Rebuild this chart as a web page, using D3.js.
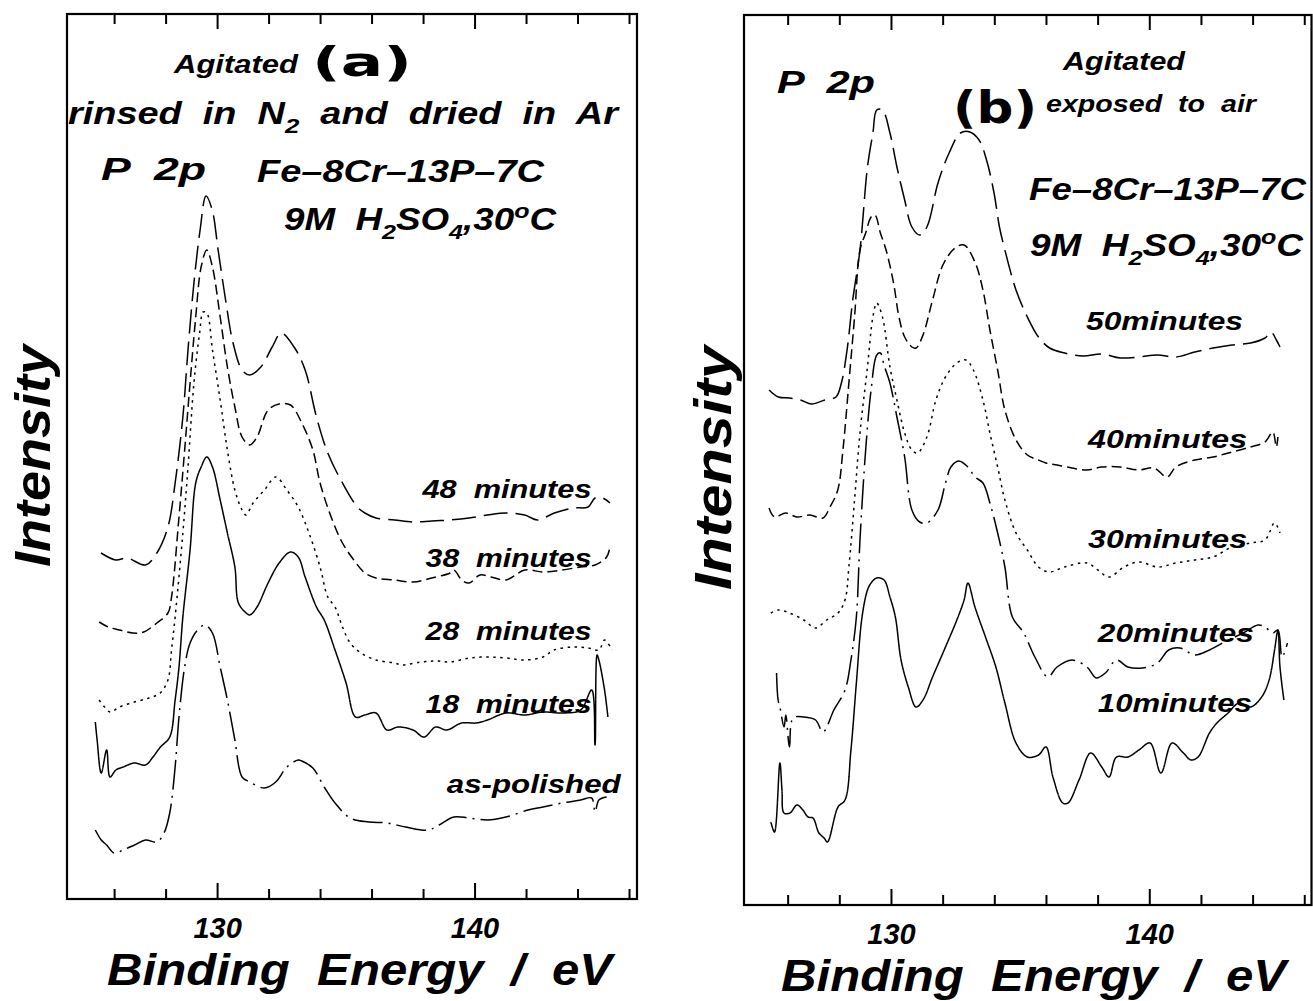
<!DOCTYPE html>
<html>
<head>
<meta charset="utf-8">
<script src="https://cdn.jsdelivr.net/npm/d3@7"></script>
<style>
  body { margin: 0; background: #fff; }
  svg { display: block; }
  text { font-family: "Liberation Sans", Arial, Helvetica, sans-serif; font-weight: bold; font-style: italic; fill: #000; }
</style>
</head>
<body>
<svg id="fig" width="1313" height="1001"></svg>
<script>
// P 2p XPS spectra of Fe-8Cr-13P-7C in 9M H2SO4 at 30 degC.
// Each spectrum: [binding energy (eV), intensity (arb. units)].

// (a) rinsed in N2 and dried in Ar
const a48min = [[125.49,346],[126.07,339],[126.50,341],[127.22,334],[127.66,346],[128.09,372],[128.37,416],[128.67,482],[128.87,549],[129.10,616],[129.34,669],[129.57,703],[129.81,689],[130.04,649],[130.33,599],[130.62,556],[130.97,529],[131.27,524],[131.70,532],[132.14,552],[132.49,566],[132.99,552],[133.42,529],[133.86,482],[134.30,446],[134.87,416],[135.45,392],[135.74,386],[136.17,381],[136.90,379],[137.61,377],[138.34,378],[139.05,379],[139.79,381],[140.50,384],[141.22,386],[141.95,384],[142.45,379],[143.10,386],[143.83,391],[144.41,392],[144.68,401],[144.98,401],[145.26,396]];
const a38min = [[125.42,277],[125.77,272],[126.21,269],[126.72,266],[127.15,267],[127.66,276],[128.09,286],[128.23,302],[128.52,382],[128.74,449],[128.95,516],[129.17,582],[129.38,632],[129.60,649],[129.82,632],[130.12,582],[130.40,532],[130.69,492],[130.97,462],[131.27,454],[131.55,462],[131.98,489],[132.41,495],[132.85,494],[133.29,476],[133.72,449],[134.00,416],[134.43,382],[134.87,356],[135.31,339],[135.74,326],[136.17,321],[136.90,319],[137.61,317],[138.34,321],[139.05,326],[139.20,329],[139.50,319],[139.79,316],[140.21,324],[140.64,322],[141.22,319],[141.95,329],[142.66,327],[143.40,329],[144.12,332],[144.68,334],[145.13,342],[145.26,352]];
const a28min = [[125.42,199],[125.63,192],[125.84,187],[126.21,192],[126.79,197],[127.36,201],[127.79,206],[128.09,219],[128.23,249],[128.37,282],[128.67,366],[128.87,432],[129.10,516],[129.32,566],[129.46,587],[129.60,586],[129.82,549],[130.12,499],[130.40,449],[130.69,409],[130.97,389],[131.12,384],[131.40,396],[131.84,409],[132.28,422],[132.71,409],[133.15,392],[133.57,366],[134.00,332],[134.30,302],[134.58,292],[134.87,272],[135.17,256],[135.59,246],[136.17,239],[136.90,236],[137.18,234],[137.91,237],[138.50,238],[139.05,237],[139.79,241],[140.50,242],[141.22,241],[141.95,239],[142.66,242],[143.09,249],[143.83,252],[144.41,251],[144.83,249],[145.05,259],[145.34,249]];
const a18min = [[125.27,177],[125.34,159],[125.50,126],[125.71,149],[125.84,122],[126.07,129],[126.35,132],[126.79,136],[127.22,134],[127.51,142],[127.80,152],[128.16,162],[128.37,199],[128.52,232],[128.67,282],[128.95,349],[129.17,416],[129.38,432],[129.60,442],[129.82,432],[130.12,399],[130.40,366],[130.69,332],[130.83,296],[131.13,286],[131.27,284],[131.55,292],[131.98,316],[132.41,336],[132.85,347],[133.15,342],[133.42,322],[133.86,292],[134.16,279],[134.58,249],[135.01,216],[135.38,182],[135.74,184],[136.17,186],[136.60,169],[137.03,172],[137.61,169],[138.04,162],[138.49,172],[138.92,169],[139.50,176],[140.06,176],[140.50,179],[141.22,186],[141.95,184],[142.66,187],[143.40,186],[144.12,189],[144.55,209],[144.68,154],[144.76,244],[144.83,239],[145.05,209],[145.18,182]];
const aPolished = [[125.27,69],[125.50,59],[125.71,54],[126.00,46],[126.35,49],[126.79,54],[127.22,59],[127.66,57],[127.94,66],[128.16,86],[128.37,132],[128.52,182],[128.74,232],[128.95,256],[129.24,269],[129.53,274],[129.82,266],[130.12,232],[130.40,199],[130.69,159],[130.97,122],[131.27,117],[131.84,111],[132.28,117],[132.71,132],[133.15,139],[133.29,138],[133.72,131],[134.16,112],[134.58,96],[135.17,81],[135.89,77],[136.60,76],[137.33,72],[138.19,69],[138.62,74],[139.20,82],[139.79,81],[140.50,79],[141.22,82],[142.08,89],[142.66,92],[143.40,96],[144.12,99],[144.55,101],[144.68,87],[144.83,99],[145.13,102]];

// (b) exposed to air
const b50min = [[125.28,515],[125.64,508],[126.07,507],[126.50,505],[126.93,501],[127.44,505],[127.87,508],[128.08,522],[128.30,555],[128.52,605],[128.80,655],[129.09,738],[129.30,772],[129.45,795],[129.67,795],[129.96,772],[130.23,738],[130.53,705],[130.81,678],[131.11,670],[131.39,678],[131.82,722],[132.25,752],[132.69,772],[133.05,773],[133.41,765],[133.70,745],[133.99,712],[134.20,678],[134.41,655],[134.84,615],[135.28,588],[135.71,568],[136.14,557],[136.72,552],[137.43,549],[138.16,551],[138.87,547],[139.60,548],[140.32,550],[141.03,548],[141.76,553],[142.47,557],[143.20,560],[143.92,562],[144.48,567],[144.71,573],[144.92,565],[145.06,558]];
const b40min = [[125.28,397],[125.49,388],[125.93,392],[126.36,388],[126.86,390],[127.37,387],[127.64,398],[127.94,415],[128.14,455],[128.37,522],[128.59,588],[128.80,655],[129.02,672],[129.23,688],[129.38,690],[129.59,672],[129.81,655],[130.10,622],[130.31,588],[130.53,568],[130.81,558],[130.97,557],[131.24,570],[131.61,605],[132.01,640],[132.48,657],[132.83,660],[133.25,643],[133.56,615],[133.83,575],[134.13,535],[134.41,495],[134.84,465],[135.28,450],[135.71,445],[136.00,442],[136.43,440],[137.01,437],[137.59,435],[138.16,438],[138.87,438],[139.60,435],[140.18,437],[140.69,428],[141.03,438],[141.76,445],[142.47,448],[143.20,453],[143.92,458],[144.48,463],[144.78,473],[144.92,458],[144.98,468]];
const b30min = [[125.35,292],[125.63,295],[126.07,292],[126.63,285],[127.08,277],[127.51,285],[127.95,292],[128.22,305],[128.37,338],[128.59,405],[128.80,472],[129.09,538],[129.30,588],[129.45,602],[129.67,588],[129.96,538],[130.23,505],[130.53,472],[130.81,455],[131.03,452],[131.39,468],[131.74,505],[132.11,528],[132.55,542],[132.90,545],[133.19,535],[133.56,505],[133.83,472],[134.13,438],[134.41,405],[134.84,372],[135.28,355],[135.71,338],[136.14,333],[136.72,338],[137.59,342],[138.01,335],[138.44,328],[139.02,338],[139.60,343],[140.32,338],[141.03,342],[141.76,345],[142.47,348],[143.20,358],[143.92,362],[144.48,365],[144.85,382],[145.06,372]];
const b20min = [[125.57,232],[125.63,205],[125.70,198],[125.86,178],[125.93,190],[126.07,158],[126.21,187],[126.63,188],[127.08,185],[127.37,173],[127.79,195],[128.22,215],[128.45,245],[128.66,288],[128.80,365],[129.02,455],[129.23,515],[129.45,550],[129.59,552],[129.73,540],[129.96,522],[130.23,488],[130.53,448],[130.81,395],[131.11,383],[131.39,382],[131.82,395],[132.11,422],[132.32,438],[132.62,444],[132.98,438],[133.25,428],[133.56,422],[133.83,402],[134.13,372],[134.41,338],[134.70,288],[135.14,272],[135.57,248],[136.07,228],[136.43,238],[137.01,245],[137.59,238],[137.94,227],[138.30,232],[138.73,245],[139.17,238],[139.74,237],[140.32,242],[140.75,255],[141.19,257],[141.76,250],[142.33,255],[142.91,263],[143.63,272],[144.21,280],[144.48,278],[144.78,272],[144.98,275],[145.14,248],[145.35,262]];
const b10min = [[125.35,83],[125.49,73],[125.70,142],[125.78,115],[125.86,92],[126.09,92],[126.36,100],[126.59,95],[126.79,88],[126.98,87],[127.21,72],[127.41,67],[127.54,63],[127.95,98],[128.22,105],[128.45,155],[128.66,222],[128.88,288],[129.09,315],[129.23,322],[129.45,327],[129.73,325],[129.96,308],[130.17,288],[130.39,245],[130.67,218],[130.97,198],[131.24,205],[131.61,228],[132.11,258],[132.55,285],[132.83,305],[132.98,322],[133.25,298],[133.70,265],[134.06,238],[134.41,202],[134.84,162],[135.28,148],[135.71,150],[136.00,158],[136.27,128],[136.65,102],[136.85,102],[137.28,125],[137.73,152],[138.16,138],[138.44,128],[138.73,148],[139.17,148],[139.60,155],[140.03,162],[140.45,132],[140.88,162],[141.32,152],[141.61,145],[141.89,148],[142.33,172],[142.62,182],[143.05,192],[143.47,202],[143.92,198],[144.35,208],[144.64,225],[144.85,255],[144.98,275],[145.06,238],[145.21,205]];

// Curve labels and where they sit (binding energy, intensity)
const labelsA = ["48  minutes", "38  minutes", "28  minutes", "18  minutes", "as-polished"];
const labelPosA = [[137.98,401],[138.10,332],[138.10,259],[138.10,186],[138.92,106]];
const labelsB = ["50minutes", "40minutes", "30minutes", "20minutes", "10minutes"];
const labelPosB = [[137.55,575],[137.63,457],[137.63,357],[138.01,263],[138.01,193]];

// Energy axis ticks
const energyTicks = [126, 128, 130, 132, 134, 136, 138, 140, 142, 144, 146];
const labelledTicks = [130, 140];

// ---- layout ----
const svg = d3.select("#fig");
const panels = [
  { left: 67, right: 637, top: 14, bottom: 899, eDomain: [124.17, 146.31], iMax: 885,
    series: [a48min, a38min, a28min, a18min, aPolished], labels: labelsA, labelPos: labelPosA,
    labelWidths: [169, 166, 166, 166, 174],
    yLabel: { x: 50, y: 456, size: 50, len: 222 }, xTitle: { dx: 40, len: 505 } },
  { left: 744, right: 1311.5, top: 15, bottom: 905, eDomain: [124.31, 146.28], iMax: 890,
    series: [b50min, b40min, b30min, b20min, b10min], labels: labelsB, labelPos: labelPosB,
    labelWidths: [157, 159, 159, 156, 154],
    yLabel: { x: 731, y: 468, size: 52, len: 244 }, xTitle: { dx: 37, len: 505 } }
];
// long dash, medium dash, dotted, dash-dot, solid
const dashes = [["24,8", "10,5", "2.5,4.5", "1,0", "30,6,2,6"], ["26,8", "10,5", "2.5,4.5", "30,6,2,6", "1,0"]];

panels.forEach((p, pi) => {
  const g = svg.append("g");
  const x = d3.scaleLinear().domain(p.eDomain).range([p.left, p.right]);
  const y = d3.scaleLinear().domain([0, p.iMax]).range([p.bottom, p.top]);

  // frame
  g.append("rect").attr("x", p.left).attr("y", p.top)
    .attr("width", p.right - p.left).attr("height", p.bottom - p.top)
    .attr("fill", "none").attr("stroke", "#000").attr("stroke-width", 2.2);

  // inward ticks on bottom and top; only 130 and 140 are labelled
  const minor = energyTicks.filter(t => !labelledTicks.includes(t));
  const bMinor = g.append("g").attr("transform", `translate(0,${p.bottom})`)
    .call(d3.axisBottom(x).tickValues(minor).tickSize(-10).tickFormat(""));
  const bMajor = g.append("g").attr("transform", `translate(0,${p.bottom})`)
    .call(d3.axisBottom(x).tickValues(labelledTicks).tickSize(-16).tickPadding(18).tickFormat(d3.format("d")));
  const tMinor = g.append("g").attr("transform", `translate(0,${p.top})`)
    .call(d3.axisTop(x).tickValues(minor).tickSize(-10).tickFormat(""));
  const tMajor = g.append("g").attr("transform", `translate(0,${p.top})`)
    .call(d3.axisTop(x).tickValues(labelledTicks).tickSize(-15).tickFormat(""));
  [bMinor, bMajor, tMinor, tMajor].forEach(ax => {
    ax.attr("font-family", null).attr("font-size", null);
    ax.select(".domain").remove();
    ax.selectAll("line").attr("stroke", "#000").attr("stroke-width", 2);
  });
  bMajor.selectAll("text").attr("font-size", 29).attr("fill", "#000");

  // axis titles
  g.append("text").attr("x", p.left + p.xTitle.dx).attr("y", p.bottom + 86)
    .attr("font-size", 44).style("white-space", "pre")
    .attr("textLength", p.xTitle.len).attr("lengthAdjust", "spacingAndGlyphs")
    .text("Binding  Energy  /  eV");
  g.append("text").attr("transform", `translate(${p.yLabel.x},${p.yLabel.y}) rotate(-90)`)
    .attr("text-anchor", "middle").attr("font-size", p.yLabel.size)
    .attr("textLength", p.yLabel.len).attr("lengthAdjust", "spacingAndGlyphs")
    .text("Intensity");

  // spectra
  const line = d3.line().x(d => x(d[0])).y(d => y(d[1])).curve(d3.curveCatmullRom.alpha(0.5));
  p.series.forEach((s, si) => {
    g.append("path").datum(s).attr("d", line)
      .attr("fill", "none").attr("stroke", "#000").attr("stroke-width", 1.5)
      .attr("stroke-linejoin", "round")
      .attr("stroke-dasharray", dashes[pi][si]);
  });

  // curve labels
  p.labels.forEach((t, i) => {
    g.append("text").attr("x", x(p.labelPos[i][0])).attr("y", y(p.labelPos[i][1]))
      .attr("font-size", 26).style("white-space", "pre")
      .attr("textLength", p.labelWidths[i]).attr("lengthAdjust", "spacingAndGlyphs")
      .text(t);
  });
});

// ---- annotations ----
function note(x, y, size, width, parts, opts = {}) {
  const t = svg.append("text").attr("x", x).attr("y", y).attr("font-size", size)
    .style("white-space", "pre");
  if (width) t.attr("textLength", width).attr("lengthAdjust", "spacingAndGlyphs");
  if (opts.upright) t.style("font-style", "normal").style("font-family", "'DejaVu Sans', sans-serif");
  let shift = 0;
  parts.forEach(pt => {
    const [str, kind] = Array.isArray(pt) ? pt : [pt, null];
    const target = kind === "sub" ? 0.3 * size : kind === "sup" ? -0.38 * size : 0;
    const ts = t.append("tspan").attr("dy", target - shift).text(str);
    if (kind) ts.attr("font-size", size * 0.68);
    shift = target;
  });
  return t;
}
const formula = ["9M  H", ["2", "sub"], "SO", ["4", "sub"], ",30", ["o", "sup"], "C"];

// panel (a)
note(174, 73, 26, 124, ["Agitated"]);
note(312, 76, 40, 100, ["(a)"], { upright: true });
note(68, 124, 31, 550, ["rinsed  in  N", ["2", "sub"], "  and  dried  in  Ar"]);
note(101, 180, 32, 105, ["P  2p"]);
note(257, 182, 31, 287, ["Fe\u20138Cr\u201313P\u20137C"]);
note(284, 230, 31, 272, formula);

// panel (b)
note(777, 93, 32, 98, ["P  2p"]);
note(1063, 70, 26, 122, ["Agitated"]);
note(953, 123, 44, 84, ["(b)"], { upright: true });
note(1046, 112, 24, 210, ["exposed  to  air"]);
note(1029, 200, 31, 277, ["Fe\u20138Cr\u201313P\u20137C"]);
note(1030, 256, 31, 273, formula);
</script>
</body>
</html>
